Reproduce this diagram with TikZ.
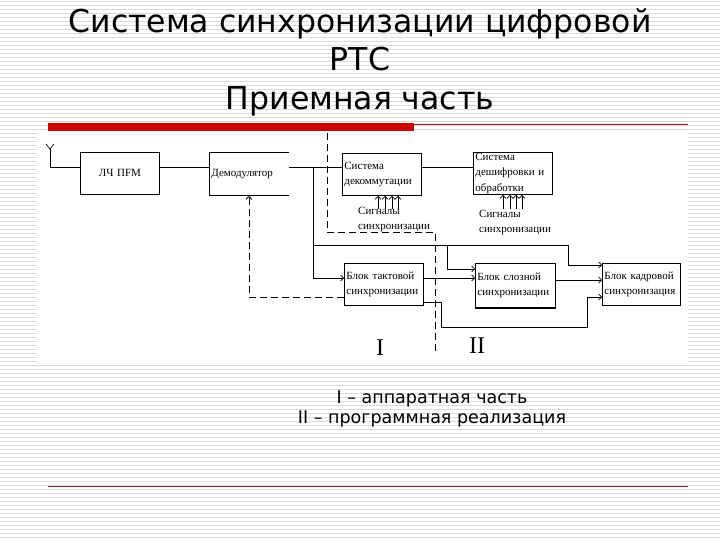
\documentclass[tikz,border=0pt]{standalone}
\usepackage{fontspec}
\setmainfont{Liberation Serif}
\newfontfamily\sansf{DejaVu Sans}
\usetikzlibrary{arrows.meta}
\definecolor{barred}{HTML}{CC0000}
\definecolor{linered}{HTML}{8B2323}
\tikzset{
  box/.style={draw, line width=0.8pt, minimum height=42pt, anchor=north west,
    inner xsep=2pt, inner ysep=0pt, font=\fontsize{11}{15.5}\selectfont, align=left, text width=75pt},
  ln/.style={line width=0.7pt},
  arr/.style={ln, -{Straight Barb[length=3pt,width=6pt]}},
  dsh/.style={line width=0.8pt, dash pattern=on 7pt off 4pt},
  lbl/.style={font=\fontsize{11}{15}\selectfont, align=left, inner sep=0pt},
  stripe/.style={line width=0.7pt, black!14},
}
\begin{document}
\begin{tikzpicture}[x=1pt,y=-1pt]
\useasboundingbox (0,0) rectangle (720,540);
% background
\foreach \yy in {1,5,...,537} \draw[stripe] (0,\yy) -- (720,\yy);
\fill[white] (37,133) rectangle (688,365);
% title
\node[font=\sansf\fontsize{31.5}{38.5}\selectfont, align=center, inner sep=0pt] (title) at (360,62)
  {Система синхронизации цифровой\\РТС\\Приемная часть};
\fill[barred] (48,123) rectangle (414,131);
\draw[linered, line width=0.8pt] (414,124) -- (688,124);
\draw[linered, line width=0.9pt] (48,486) -- (688,486);
% legend
\node[font=\sansf\fontsize{17.5}{20}\selectfont, align=center, inner sep=0pt] (legend) at (432,409)
  {I – аппаратная часть\\II – программная реализация};
% boxes
\node[box, align=center] (lch) at (80,152) {ЛЧ ПFM};
\node[box, draw=none, minimum height=43pt] (dem) at (209,152) {Демодулятор};
\draw[line width=0.8pt] (dem.north east) -- (dem.north west) -- (dem.south west) -- (dem.south east);
\node[box] (dek) at (342,153) {Система\\декоммутации};
\node[box] (desh) at (473,152) {Система\\дешифровки и\\обработки};
\node[box] (takt) at (344,263) {Блок тактовой\\синхронизации};
\node[box, text width=76pt, minimum height=44pt] (sloz) at (475,263) {Блок слозной\\синхронизации};
\draw[line width=1.8pt] (sloz.south west) -- (sloz.south east);
\node[box, text width=74pt] (kadr) at (602,263) {Блок кадровой\\синхронизация};
% antenna
\coordinate (ant) at (50,149);
\draw[ln] (46,144) -- (ant) -- (54,144);
\coordinate (rowA) at (0,167);
\draw[ln] (ant) |- (lch.west |- rowA);
\draw[ln] (lch.east |- rowA) -- (dem.west |- rowA);
\draw[ln] (dem.east |- rowA) -- (dek.west |- rowA);
\draw[ln] (dek.east |- rowA) -- (desh.west |- rowA);
% bus
\coordinate (jx) at (313,167);
\coordinate (bus) at (313,245);
\coordinate (br1) at (447,245);
\coordinate (br2) at (568,245);
\coordinate (rowT) at (0,278);
\coordinate (rowS) at (0,269);
\coordinate (rowK1) at (0,265);
\coordinate (rowK2) at (0,280);
\coordinate (rowK3) at (0,297);
\coordinate (rowO) at (0,302);
\coordinate (c1) at (441,327);
\coordinate (c2) at (587,327);
\draw[arr] (jx) |- (takt.west |- rowT);
\draw[ln] (bus) -- (br2);
\draw[arr] (br1) |- (sloz.west |- rowS);
\draw[arr] (br2) |- (kadr.west |- rowK1);
\draw[arr] (takt.east |- rowT) -- (sloz.west |- rowT);
\draw[arr] (sloz.east |- rowK2) -- (kadr.west |- rowK2);
\draw[arr] (takt.east |- rowO) -| (c1) -- (c2) |- (kadr.west |- rowK3);
% dashed feedback
\draw[dsh, -{Straight Barb[length=3pt,width=6pt]}] (takt.west |- rowK3) -| (dem.south);
% boundary I / II
\draw[dsh] (327,133) -- (327,232) -- (435,232) -- (435,352);
% sync signals
\foreach \xx in {378,385,392,398} \draw[arr] (\xx,209) -- (\xx,209 |- dek.south);
\foreach \xx in {503,510,516,522} \draw[arr] (\xx,209) -- (\xx,209 |- desh.south);
\node[lbl, anchor=west] (sig1) at (358,220) {Сигналы\\синхронизации};
\node[lbl, anchor=west] (sig2) at (479,223) {Сигналы\\синхронизации};
% part labels
\node[font=\fontsize{24}{24}\selectfont, inner sep=0pt] (p1) at (380,348) {I};
\node[font=\fontsize{24}{24}\selectfont, inner sep=0pt] (p2) at (477,346) {II};
\end{tikzpicture}
\end{document}
